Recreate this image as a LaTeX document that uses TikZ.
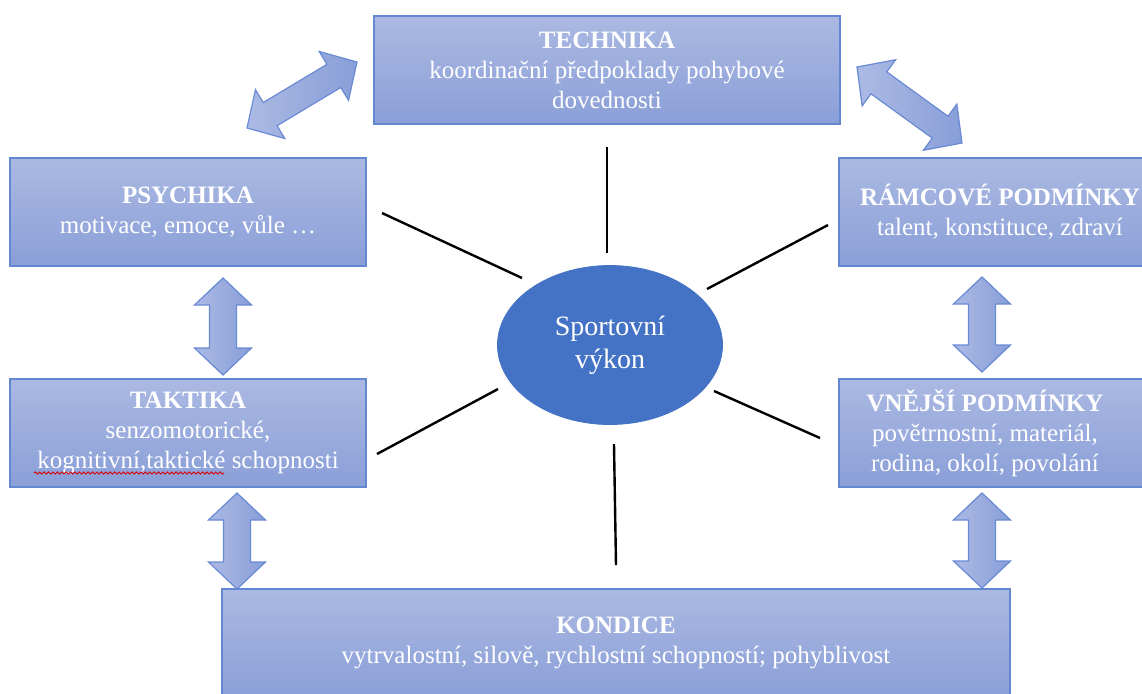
\documentclass[tikz,border=0pt]{standalone}
\usepackage{fontspec}
\setmainfont{Liberation Serif}
\usetikzlibrary{calc,shapes.geometric,decorations.pathmorphing}

\definecolor{boxtop}{RGB}{171,185,226}
\definecolor{boxbot}{RGB}{138,159,216}
\definecolor{boxline}{RGB}{100,135,210}
\definecolor{arrlight}{RGB}{172,186,228}
\definecolor{arrdark}{RGB}{136,158,216}
\definecolor{arrline}{RGB}{105,138,212}
\definecolor{core}{RGB}{68,114,196}

% block double arrow between two tips: head length, head half width, shaft half width
\def\ahl{13.5pt}
\def\ahw{14.25pt}
\def\asw{6.75pt}
\newcommand\dblarrow[2]{%
  \draw[blockarrow] (#1)
    -- ($(#1)!\ahl!(#2)!\ahw!90:(#2)$)
    -- ($(#1)!\ahl!(#2)!\asw!90:(#2)$)
    -- ($(#2)!\ahl!(#1)!\asw!-90:(#1)$)
    -- ($(#2)!\ahl!(#1)!\ahw!-90:(#1)$)
    -- (#2)
    -- ($(#2)!\ahl!(#1)!\ahw!90:(#1)$)
    -- ($(#2)!\ahl!(#1)!\asw!90:(#1)$)
    -- ($(#1)!\ahl!(#2)!\asw!-90:(#2)$)
    -- ($(#1)!\ahl!(#2)!\ahw!-90:(#2)$)
    -- cycle;}

\tikzset{
  factor/.style={draw=boxline, line width=0.7pt, top color=boxtop, bottom color=boxbot,
    text=white, align=center, inner sep=0pt, font=\fontsize{12.5}{15}\selectfont},
  factortext/.style={text=white, align=center, inner sep=0pt, font=\fontsize{12.5}{15}\selectfont},
  blockarrow/.style={draw=arrline, line width=0.6pt, left color=arrlight, right color=arrdark,
    line join=miter},
  spoke/.style={black, line width=1.2pt},
  core/.style={ellipse, fill=core, draw=core, text=white, align=center, inner sep=0pt,
    minimum width=112.5pt, minimum height=79.5pt, font=\fontsize{14}{16.5}\selectfont},
}

\begin{document}
\begin{tikzpicture}[x=0.5pt,y=-0.5pt]
\useasboundingbox (0,0) rectangle (1142,693);
\clip (0,0) rectangle (1142,693);

% factor boxes
\node[factor, minimum width=233pt, minimum height=54pt] (tech) at (607,70)
  {\textbf{TECHNIKA}\\koordinační předpoklady pohybové\\dovednosti};
\node[factor, minimum width=178pt, minimum height=54pt] (psy) at (188,212)
  {\textbf{PSYCHIKA}\\motivace, emoce, vůle …};
\node[factor, minimum width=161pt, minimum height=54pt] (ram) at (1000,212)
  {\textbf{RÁMCOVÉ PODMÍNKY}\\talent, konstituce, zdraví};
\node[factor, minimum width=178pt, minimum height=54pt] (tak) at (188,433)
  {\textbf{TAKTIKA}\\senzomotorické,\\kognitivní,taktické schopnosti};
\node[factor, minimum width=161pt, minimum height=54pt] (vne) at (1000,433) {};
\node[factortext] (vnetext) at (985,433)
  {\textbf{VNĚJŠÍ PODMÍNKY}\\povětrnostní, materiál,\\rodina, okolí, povolání};
\node[factor, minimum width=394pt, minimum height=54pt] (kon) at (616,643)
  {\textbf{KONDICE}\\vytrvalostní, silově, rychlostní schopností; pohyblivost};

% spell-check wave under the joined words
\coordinate (wavel) at (34,473);
\coordinate (waver) at (224,473);
\draw[red!85!black, line width=0.45pt, decorate,
  decoration={snake, amplitude=0.55pt, segment length=2.2pt}] (wavel) -- (waver);

% central node
\node[core] (perf) at (610,345) {Sportovní\\výkon};

% spokes around the centre
\coordinate (s1a) at (382,213); \coordinate (s1b) at (522,278);
\coordinate (s2a) at (607,147); \coordinate (s2b) at (607,253);
\coordinate (s3a) at (828,225); \coordinate (s3b) at (707,289);
\coordinate (s4a) at (377,454); \coordinate (s4b) at (498,389);
\coordinate (s5a) at (614,444); \coordinate (s5b) at (616,565);
\coordinate (s6a) at (714,391); \coordinate (s6b) at (820,438);
\draw[spoke] (s1a) -- (s1b);
\draw[spoke] (s2a) -- (s2b);
\draw[spoke] (s3a) -- (s3b);
\draw[spoke] (s4a) -- (s4b);
\draw[spoke] (s5a) -- (s5b);
\draw[spoke] (s6a) -- (s6b);

% block arrows between neighbouring factors
\coordinate (a1a) at (247,128); \coordinate (a1b) at (357,62);
\coordinate (a2a) at (857,67);  \coordinate (a2b) at (962,143);
\coordinate (a3a) at (223,278); \coordinate (a3b) at (223,375);
\coordinate (a4a) at (982,277); \coordinate (a4b) at (982,372);
\coordinate (a5a) at (237,493); \coordinate (a5b) at (237,589);
\coordinate (a6a) at (982,493); \coordinate (a6b) at (982,588);
\dblarrow{a1a}{a1b}
\dblarrow{a2a}{a2b}
\dblarrow{a3a}{a3b}
\dblarrow{a4a}{a4b}
\dblarrow{a5a}{a5b}
\dblarrow{a6a}{a6b}
\end{tikzpicture}
\end{document}
